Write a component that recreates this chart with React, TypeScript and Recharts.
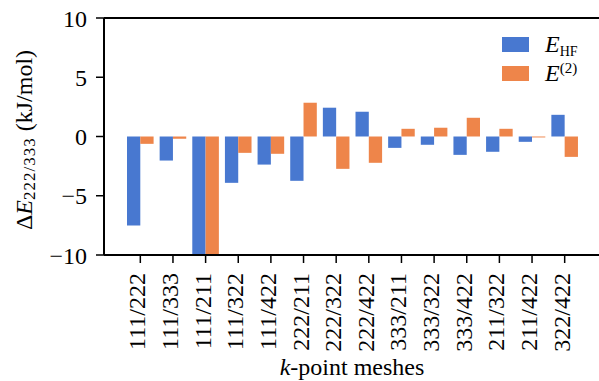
import React from 'react';
import { BarChart, Bar, XAxis, YAxis, ReferenceLine, Legend, Label } from 'recharts';

const categories = ['111/222', '111/333', '111/211', '111/322', '111/422', '222/211', '222/322', '222/422', '333/211', '333/322', '333/422', '211/322', '211/422', '322/422'];
const hfValues = [-7.52, -2.03, -10, -3.91, -2.37, -3.74, 2.43, 2.09, -0.96, -0.7, -1.55, -1.29, -0.45, 1.83];
const e2Values = [-0.62, -0.19, -10, -1.38, -1.46, 2.85, -2.73, -2.22, 0.65, 0.74, 1.58, 0.65, -0.08, -1.72];
const yTicks = [-10, -5, 0, 5, 10];

const BLUE = '#4878d0';
const ORANGE = '#ee854a';
const FONT = '"Liberation Serif", "Times New Roman", serif';

const data = categories.map((c, i) => ({ name: c, hf: hfValues[i], e2: e2Values[i] }));

const XTick = (props: any) => {
  const { x, y, payload } = props;
  return (
    <text
      transform={`translate(${x + 5},${y + 10}) rotate(-90)`}
      textAnchor="end"
      fontSize={24}
      fontFamily={FONT}
      fill="#000"
    >
      {payload.value}
    </text>
  );
};

const YLabel = () => (
  <text transform="translate(32,140) rotate(-90)" textAnchor="middle" fontSize={24} fontFamily={FONT} fill="#000">
    <tspan>Δ</tspan>
    <tspan fontStyle="italic">E</tspan>
    <tspan fontSize={17} dy={3} letterSpacing={1}>222/333</tspan>
    <tspan dy={-3}> (kJ/mol)</tspan>
  </text>
);

const XLabel = () => (
  <text x={352} y={375} textAnchor="middle" fontSize={24} fontFamily={FONT} fill="#000">
    <tspan fontStyle="italic">k</tspan>
    <tspan>-point meshes</tspan>
  </text>
);

const LegendContent = () => (
  <div style={{ fontFamily: FONT, fontSize: 24, color: '#000' }}>
    <div style={{ display: 'flex', alignItems: 'center', height: 29 }}>
      <div style={{ width: 27, height: 15, background: BLUE, marginRight: 16 }} />
      <span>
        <i>E</i>
        <span style={{ fontSize: 14, position: 'relative', top: 4 }}>HF</span>
      </span>
    </div>
    <div style={{ display: 'flex', alignItems: 'center', height: 29 }}>
      <div style={{ width: 27, height: 15, background: ORANGE, marginRight: 16 }} />
      <span>
        <i>E</i>
        <span style={{ fontSize: 15, position: 'relative', top: -8 }}>(2)</span>
      </span>
    </div>
  </div>
);

export default function App() {
  return (
    <div style={{ position: 'fixed', left: 0, top: 0, width: 599, height: 381, overflow: 'hidden', background: '#fff' }}>
      <BarChart
        width={601}
        height={381}
        data={data}
        margin={{ top: 18, right: 1, left: 0, bottom: 0 }}
        barGap={0}
      >
        <XAxis
          dataKey="name"
          height={126}
          padding={{ left: 20, right: 19 }}
          tick={<XTick />}
          tickSize={8}
          tickMargin={0}
          interval={0}
          axisLine={{ stroke: '#000', strokeWidth: 2 }}
          tickLine={{ stroke: '#000', strokeWidth: 1.5 }}
        >
          <Label content={<XLabel />} />
        </XAxis>
        <YAxis
          width={104}
          domain={[-10, 10]}
          ticks={yTicks}
          allowDataOverflow
          tickSize={8}
          tickMargin={9}
          tickFormatter={(v: number) => (v < 0 ? '\u2212' + Math.abs(v) : String(v))}
          tick={{ fontSize: 24, fontFamily: FONT, fill: '#000' }}
          axisLine={{ stroke: '#000', strokeWidth: 2 }}
          tickLine={{ stroke: '#000', strokeWidth: 1.5 }}
        >
          <Label content={<YLabel />} />
        </YAxis>
        <ReferenceLine y={10} stroke="#000" strokeWidth={2} />
        <Legend
          layout="horizontal"
          verticalAlign="middle"
          align="center"
          content={<LegendContent />}
          wrapperStyle={{ top: 30, left: 502, width: 100 }}
        />
        <Bar dataKey="hf" fill={BLUE} barSize={13.3} isAnimationActive={false} />
        <Bar dataKey="e2" fill={ORANGE} barSize={13.3} isAnimationActive={false} />
      </BarChart>
    </div>
  );
}
